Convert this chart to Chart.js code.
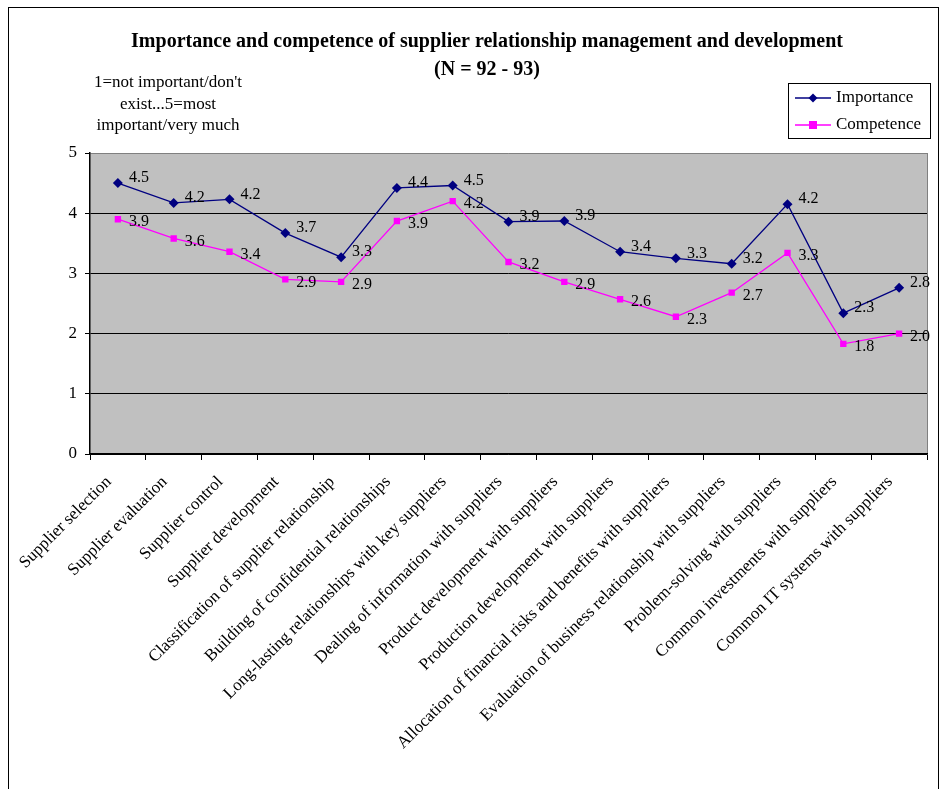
<!DOCTYPE html>
<html><head><meta charset="utf-8">
<script src="https://cdn.jsdelivr.net/npm/chart.js@4.4.1/dist/chart.umd.min.js"></script>
<style>
html,body{margin:0;padding:0;background:#fff;}
#wrap{position:absolute;left:0;top:0;width:948px;height:789px;}
#frame{position:absolute;left:8px;top:7px;width:931px;height:800px;border:1px solid #000;box-sizing:border-box;}
canvas{position:absolute;left:0;top:0;}
</style></head>
<body>
<div id="wrap"><div id="frame"></div><canvas id="c" width="948" height="789"></canvas></div>
<script>
const categories = [
  "Supplier selection",
  "Supplier evaluation",
  "Supplier control",
  "Supplier development",
  "Classification of supplier relationship",
  "Building of confidential relationships",
  "Long-lasting relationships with key suppliers",
  "Dealing of information with suppliers",
  "Product development with suppliers",
  "Production development with suppliers",
  "Allocation of financial risks and benefits with suppliers",
  "Evaluation of business relationship with suppliers",
  "Problem-solving with suppliers",
  "Common investments with suppliers",
  "Common IT systems with suppliers"
];
const importance = [4.50, 4.17, 4.23, 3.67, 3.27, 4.42, 4.46, 3.86, 3.87, 3.36, 3.25, 3.16, 4.15, 2.34, 2.76];
const competence = [3.90, 3.58, 3.36, 2.90, 2.86, 3.87, 4.20, 3.19, 2.86, 2.57, 2.28, 2.68, 3.34, 1.83, 2.00];
const yTicks = [0, 1, 2, 3, 4, 5];
const titleLines = ["Importance and competence of supplier relationship management and development", "(N = 92 - 93)"];
const noteLines = ["1=not important/don't", "exist...5=most", "important/very much"];
const seriesNames = ["Importance", "Competence"];

const SERIF = "'Liberation Serif','Times New Roman',serif";

const decor = {
  id: 'decor',
  beforeDraw(chart) {
    const {ctx, chartArea: a} = chart;
    ctx.save();
    ctx.fillStyle = '#C0C0C0';
    ctx.fillRect(a.left, a.top, a.right - a.left, a.bottom - a.top);
    ctx.strokeStyle = '#808080';
    ctx.lineWidth = 1;
    ctx.beginPath();
    ctx.moveTo(a.right + 0.5, a.top);
    ctx.lineTo(a.right + 0.5, a.bottom);
    ctx.stroke();
    ctx.restore();
  },
  afterDraw(chart) {
    const {ctx} = chart;
    ctx.save();
    // title
    ctx.fillStyle = '#000';
    ctx.textAlign = 'center';
    ctx.textBaseline = 'middle';
    ctx.font = 'bold 20px ' + SERIF;
    ctx.fillText(titleLines[0], 487, 42);
    ctx.fillText(titleLines[1], 487, 70);
    // note
    ctx.font = '17px ' + SERIF;
    noteLines.forEach((t, i) => ctx.fillText(t, 168, 83 + i * 21.5));
    // legend
    const lx = 788, ly = 83, lw = 142, lh = 55;
    ctx.fillStyle = '#fff';
    ctx.fillRect(lx, ly, lw, lh);
    ctx.strokeStyle = '#000';
    ctx.lineWidth = 1;
    ctx.strokeRect(lx + 0.5, ly + 0.5, lw, lh);
    ctx.textAlign = 'left';
    ctx.font = '17px ' + SERIF;
    chart.data.datasets.forEach((ds, i) => {
      const y = ly + 15 + i * 27;
      ctx.strokeStyle = ds.borderColor;
      ctx.lineWidth = 1.3;
      ctx.beginPath(); ctx.moveTo(lx + 7, y); ctx.lineTo(lx + 43, y); ctx.stroke();
      ctx.fillStyle = ds.borderColor;
      ctx.beginPath();
      if (i === 0) {
        ctx.moveTo(lx + 25, y - 4.5); ctx.lineTo(lx + 29.5, y); ctx.lineTo(lx + 25, y + 4.5); ctx.lineTo(lx + 20.5, y);
        ctx.closePath(); ctx.fill();
      } else {
        ctx.fillRect(lx + 21, y - 4, 8, 8);
      }
      ctx.fillStyle = '#000';
      ctx.fillText(ds.label, lx + 48, y);
    });
    // data labels
    ctx.font = '16px ' + SERIF;
    ctx.fillStyle = '#000';
    ctx.textAlign = 'left';
    ctx.textBaseline = 'middle';
    chart.data.datasets.forEach((ds, i) => {
      const meta = chart.getDatasetMeta(i);
      meta.data.forEach((pt, j) => {
        ctx.fillText(ds.data[j].toFixed(1), pt.x + 11, pt.y + (i === 0 ? -5 : 3));
      });
    });
    ctx.restore();
  }
};

new Chart(document.getElementById('c'), {
  type: 'line',
  data: {
    labels: categories,
    datasets: [
      {label: seriesNames[0], data: importance, borderColor: '#000080', backgroundColor: '#000080',
       borderWidth: 1.3, pointStyle: 'rectRot', pointRadius: 5, pointBorderWidth: 0, tension: 0},
      {label: seriesNames[1], data: competence, borderColor: '#FF00FF', backgroundColor: '#FF00FF',
       borderWidth: 1.3, pointStyle: 'rect', pointRadius: 4.5, pointBorderWidth: 0, tension: 0}
    ]
  },
  options: {
    responsive: false,
    animation: false,
    devicePixelRatio: 1,
    layout: {padding: {left: 0, right: 21, top: 153, bottom: 0}},
    plugins: {legend: {display: false}, title: {display: false}, tooltip: {enabled: false}},
    scales: {
      x: {
        offset: true,
        grid: {offset: true, drawOnChartArea: false, color: '#000', tickLength: 6, tickColor: '#000'},
        border: {color: '#000', width: 1.5},
        ticks: {autoSkip: false, minRotation: 45, maxRotation: 45, color: '#000', padding: 12, labelOffset: -9,
                font: {family: SERIF, size: 17}},
        afterFit(s) { s.height = 335; }
      },
      y: {
        min: 0, max: 5,
        afterBuildTicks(s) { s.ticks = yTicks.map(v => ({value: v})); },
        grid: {color: ctx => (ctx.tick && ctx.tick.value === 5) ? '#808080' : '#000', tickLength: 5, tickColor: '#000', lineWidth: 1},
        border: {color: '#000', width: 1.5},
        ticks: {color: '#000', padding: 8, font: {family: SERIF, size: 17}},
        afterFit(s) { s.width = 90; }
      }
    }
  },
  plugins: [decor]
});
</script>
</body></html>
